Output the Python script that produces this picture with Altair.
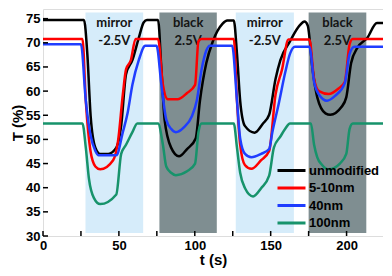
import altair as alt
import pandas as pd

# ---- data ----
series_names = ["unmodified", "5-10nm", "40nm", "100nm"]
series_colors = ["#000000", "#ff0000", "#1f3dff", "#17936b"]

t_unmod = [0, 27.0, 29.2, 31.4, 34.5, 37.7, 43.0, 48.3, 51.5, 54.7, 58.9, 63.1, 66.3, 68.5, 75.8,
           78.0, 80.1, 84.4, 89.6, 94.9, 100.6, 103.4, 107.6, 111.9, 118.2, 121.4, 125.7,
           127.8, 129.9, 133.0, 139.4, 144.7, 149.0, 153.2, 156.4, 162.7, 169.1, 172.3, 174.4,
           177.6, 180.7, 186.1, 189.3, 196.6, 199.8, 203.0, 207.2, 213.6, 220.0, 224]
T_unmod = [74.7, 74.7, 67.7, 54.8, 48.3, 47.0, 47.0, 48.3, 52.8, 63.5, 66.4, 71.0, 74.2, 74.7, 74.7,
           64.5, 54.1, 48.3, 46.5, 48.0, 50.2, 58.0, 65.8, 70.3, 73.9, 74.6, 74.6,
           67.7, 58.0, 52.8, 51.4, 53.2, 55.1, 62.5, 66.4, 70.3, 73.6, 74.4, 73.6,
           64.5, 58.7, 55.4, 55.1, 56.7, 58.7, 65.8, 69.0, 71.0, 74.1, 74.1]

t_red = [0, 26.0, 28.2, 31.3, 34.5, 37.7, 46.2, 49.4, 52.6, 54.7, 57.9, 61.0, 75.8,
         79.0, 82.2, 88.6, 94.9, 100.2, 102.4, 104.3, 125.7,
         127.8, 129.9, 133.0, 137.3, 143.7, 149.0, 153.2, 157.5, 161.7, 175.5,
         178.6, 181.8, 188.2, 194.5, 198.8, 202.0, 204.0, 224]
T_red = [70.8, 70.8, 58.0, 47.6, 44.4, 43.8, 45.7, 49.6, 59.3, 64.5, 66.4, 70.8, 70.8,
         61.3, 58.3, 58.3, 59.6, 61.3, 70.3, 70.8, 70.8,
         58.0, 48.9, 44.7, 43.9, 45.7, 47.6, 59.3, 64.5, 70.7, 70.7,
         62.5, 60.0, 59.4, 60.5, 61.9, 69.7, 70.8, 70.8]

t_blue = [0, 25.0, 28.2, 31.3, 34.5, 36.7, 48.3, 52.6, 55.7, 58.9, 63.1, 67.4, 74.8,
          78.0, 81.2, 84.4, 87.5, 92.8, 98.1, 101.3, 104.5, 107.6, 109.8, 124.6,
          127.8, 129.9, 133.1, 137.3, 143.7, 149.0, 151.1, 155.3, 159.6, 162.7, 165.9, 175.5,
          178.6, 181.8, 187.1, 192.4, 198.8, 202.0, 205.1, 224]
T_blue = [69.7, 69.7, 58.0, 50.9, 47.6, 46.7, 46.7, 51.5, 55.4, 61.3, 66.4, 69.4, 69.4,
          61.3, 54.1, 52.2, 51.5, 52.5, 54.8, 58.0, 64.5, 68.4, 69.4, 69.4,
          58.0, 50.2, 47.0, 46.3, 47.0, 48.0, 51.5, 57.4, 63.9, 67.7, 69.2, 69.2,
          61.9, 59.3, 58.0, 59.0, 61.6, 67.7, 69.2, 69.2]

t_green = [0, 26.0, 28.2, 30.3, 33.5, 37.7, 48.3, 51.5, 54.7, 58.9, 62.1, 75.8,
           79.0, 81.2, 84.4, 87.5, 94.9, 100.2, 102.4, 104.5, 125.7,
           127.8, 129.9, 133.1, 138.4, 143.7, 149.0, 152.1, 156.4, 159.6, 162.7, 176.5,
           178.6, 180.7, 183.9, 188.2, 195.6, 199.8, 202.0, 204.1, 224]
T_green = [53.3, 53.3, 48.3, 41.8, 37.9, 36.6, 38.6, 47.0, 48.9, 51.5, 53.3, 53.3,
           48.9, 44.4, 43.1, 42.6, 43.4, 45.0, 51.5, 53.3, 53.3,
           48.3, 43.1, 39.9, 38.2, 39.9, 42.5, 48.3, 50.6, 52.2, 53.3, 53.3,
           48.9, 46.3, 44.7, 43.8, 45.0, 47.0, 52.2, 53.3, 53.3]

band_start = [28, 76.7, 127, 175]
band_end = [66, 114.5, 165.3, 213]
band_kind = ["mirror", "black", "mirror", "black"]
band_line1 = ["mirror", "black", "mirror", "black"]
band_line2 = ["-2.5V", "2.5V", "-2.5V", "2.5V"]
band_colors = ["#d6ecfa", "#7f8e91"]

x_ticks = [0, 25, 50, 75, 100, 125, 150, 175, 200]
x_labels = [0, 50, 100, 150, 200]
y_ticks = [30, 35, 40, 45, 50, 55, 60, 65, 70, 75]

# ---- tables ----
rows = []
for name, ts, Ts in [("unmodified", t_unmod, T_unmod), ("5-10nm", t_red, T_red),
                     ("40nm", t_blue, T_blue), ("100nm", t_green, T_green)]:
    for a, b in zip(ts, Ts):
        rows.append({"t": a, "T": b, "series": name})
lines_df = pd.DataFrame(rows)
bands_df = pd.DataFrame({"start": band_start, "end": band_end, "kind": band_kind,
                         "l1": band_line1, "l2": band_line2})

W, H = 340, 227
xs = alt.Scale(domain=[0, 224], nice=False, zero=False)
ys = alt.Scale(domain=[30, 77], nice=False, zero=False)

x_axis = alt.Axis(values=x_labels, tickSize=0, labelPadding=3, domain=False, grid=False,
                  labelFont="Liberation Sans", labelFontWeight="bold", labelFontSize=13,
                  labelColor="black", titleFont="Liberation Sans", titleFontWeight="bold",
                  titleFontSize=15, titleColor="black", titlePadding=0, labelFlush=False,
                  labelOverlap=False)
y_axis = alt.Axis(values=y_ticks, tickSize=0, labelPadding=3, domain=False, grid=False,
                  labelFont="Liberation Sans", labelFontWeight="bold", labelFontSize=13,
                  labelColor="black", titleFont="Liberation Sans", titleFontWeight="bold",
                  titleFontSize=15, titleColor="black", titlePadding=0, labelOverlap=False,
                  tickCount=10)

def X(field, **kw):
    return alt.X(field, scale=xs, title="t (s)", axis=x_axis, **kw)

def Yf(field):
    return alt.Y(field, scale=ys, title="T (%)", axis=y_axis)

def Yd(v):
    return alt.Y(datum=v, scale=ys, title="T (%)", axis=y_axis)

bands = alt.Chart(bands_df).mark_rect().encode(
    x=X("start:Q"),
    x2="end:Q",
    y=Yd(30.6),
    y2=alt.Y2(datum=76.3),
    fill=alt.Fill("kind:N", scale=alt.Scale(domain=["mirror", "black"], range=band_colors),
                  legend=None),
)

txt_base = alt.Chart(bands_df).transform_calculate(mid="(datum.start + datum.end) / 2")
txt1 = txt_base.mark_text(font="Lato", fontWeight="bold", fontSize=13, color="#141414").encode(
    x=X("mid:Q"), y=Yd(74.2), text="l1:N")
txt2 = txt_base.mark_text(font="Lato", fontWeight="bold", fontSize=13, color="#141414").encode(
    x=X("mid:Q"), y=Yd(70.4), text="l2:N")

lines = alt.Chart(lines_df).mark_line(strokeWidth=2.5, interpolate="monotone").encode(
    x=X("t:Q"),
    y=Yf("T:Q"),
    stroke=alt.Stroke("series:N", scale=alt.Scale(domain=series_names, range=series_colors),
                      sort=series_names,
                      legend=alt.Legend(title=None, orient="none", legendX=240, legendY=153,
                                        symbolType="M-2,0H2", symbolSize=196, symbolStrokeWidth=3,
                                        labelOffset=9, rowPadding=1.5,
                                        labelFont="Liberation Sans", labelFontWeight="bold",
                                        labelFontSize=13, labelColor="black")),
    order=alt.Order("t:Q"),
)

xt = alt.Chart(pd.DataFrame({"v": x_ticks})).mark_rule(color="black", strokeWidth=1.5).encode(
    x=X("v:Q"), y=alt.value(H), y2=alt.value(H - 5))
yt = alt.Chart(pd.DataFrame({"v": y_ticks})).mark_rule(color="black", strokeWidth=1.5).encode(
    y=Yf("v:Q"), x=alt.value(0), x2=alt.value(5))

chart = alt.layer(bands, txt1, txt2, lines, xt, yt).properties(
    width=W, height=H,
    autosize=alt.AutoSizeParams(type="none"),
    padding={"left": 35, "top": 1, "right": 0, "bottom": 32},
).configure_view(stroke="black", strokeWidth=2).configure(background="white")

chart.save("out.html", embed_options={"renderer": "svg", "actions": False})
